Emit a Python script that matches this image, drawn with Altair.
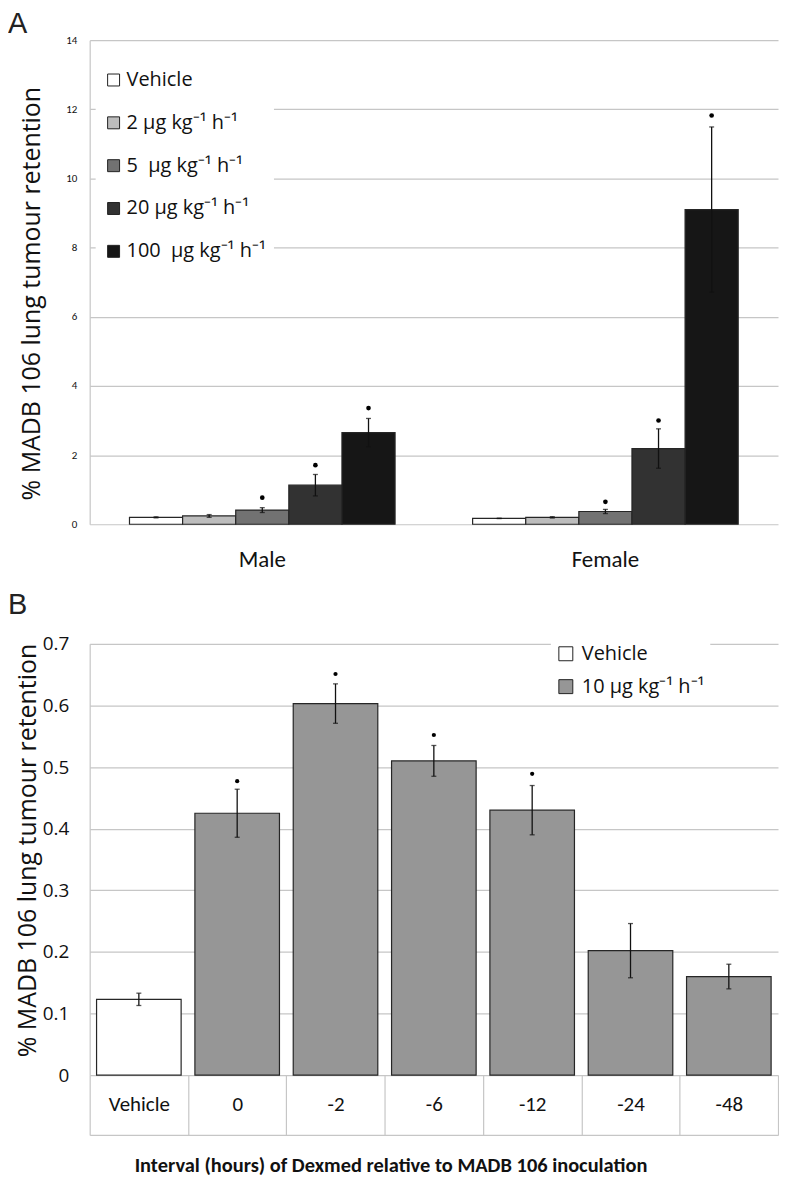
import altair as alt
import pandas as pd

# ---------------- Panel labels ----------------
panel_labels = ["A", "B"]

# ---------------- Panel A data ----------------
sexes = ["Male", "Female"]
doses = ["Vehicle", "2 μg kg⁻¹ h⁻¹", "5\u00a0 μg kg⁻¹ h⁻¹", "20 μg kg⁻¹ h⁻¹", "100\u00a0 μg kg⁻¹ h⁻¹"]
dose_colors = ["#ffffff", "#bdbdbd", "#727272", "#323232", "#161616"]
male_mean = [0.20, 0.24, 0.41, 1.13, 2.65]
male_err = [0.015, 0.04, 0.07, 0.31, 0.41]
male_sig = [None, None, 0.77, 1.71, 3.36]
female_mean = [0.17, 0.20, 0.37, 2.19, 9.10]
female_err = [0.005, 0.02, 0.06, 0.57, 2.39]
female_sig = [None, None, 0.65, 3.00, 11.82]
a_ticks = [0, 2, 4, 6, 8, 10, 12, 14]

# ---------------- Panel B data ----------------
intervals = ["Vehicle", "0", "-2", "-6", "-12", "-24", "-48"]
b_groups_dom = ["Vehicle", "10 μg kg⁻¹ h⁻¹"]
b_group_of = ["Vehicle", "10 μg kg⁻¹ h⁻¹", "10 μg kg⁻¹ h⁻¹", "10 μg kg⁻¹ h⁻¹",
              "10 μg kg⁻¹ h⁻¹", "10 μg kg⁻¹ h⁻¹", "10 μg kg⁻¹ h⁻¹"]
b_colors = ["#ffffff", "#969696"]
b_mean = [0.123, 0.425, 0.603, 0.510, 0.430, 0.202, 0.160]
b_err = [0.010, 0.039, 0.032, 0.025, 0.040, 0.044, 0.020]
b_sig = [None, 0.477, 0.651, 0.552, 0.489, None, None]
b_ticks = [0, 0.1, 0.2, 0.3, 0.4, 0.5, 0.6, 0.7]

SANS = "Open Sans"
CAL = "Carlito, Lato, Open Sans"
LETTER = "Liberation Sans, Arial, sans-serif"
INK = "#111111"
GRID = "#c6c6c6"

A_W, A_H = 691, 486
B_W, B_H = 691, 433
TABLE_H = 60

rows = []
for sex, means, errs, sigs in [("Male", male_mean, male_err, male_sig),
                               ("Female", female_mean, female_err, female_sig)]:
    for d, m, e, s in zip(doses, means, errs, sigs):
        rows.append({"sex": sex, "dose": d, "mean": m, "lo": m - e, "hi": m + e, "sig": s})
df_a = pd.DataFrame(rows)

df_b = pd.DataFrame({
    "interval": intervals, "group": b_group_of, "mean": b_mean,
    "lo": [m - e for m, e in zip(b_mean, b_err)],
    "hi": [m + e for m, e in zip(b_mean, b_err)],
    "sig": b_sig,
})


def panel_letter(letter, dx, dy):
    return alt.Chart(pd.DataFrame({"panel": [letter]})).mark_text(
        font=LETTER, fontSize=29, align="left", baseline="alphabetic", color="#222222"
    ).encode(text="panel:N", x=alt.value(dx), y=alt.value(dy))


# ---------------- Panel A chart ----------------
ya_scale = alt.Scale(domain=[0, 14], nice=False, zero=True)
xa = alt.X("sex:N", sort=sexes,
           scale=alt.Scale(paddingInner=0.226, paddingOuter=0.116),
           axis=alt.Axis(title=None, ticks=False, domain=False, labelAngle=0,
                         labelFont=CAL, labelFontSize=23, labelColor=INK, labelPadding=24))
xoff_a = alt.XOffset("dose:N", sort=doses, scale=alt.Scale(paddingInner=0, paddingOuter=0))
base_a = alt.Chart(df_a).encode(x=xa, xOffset=xoff_a)

bars_a = base_a.mark_bar(stroke="#262626", strokeWidth=1.2).encode(
    y=alt.Y("mean:Q", scale=ya_scale,
            axis=alt.Axis(values=a_ticks, title="% MADB 106 lung tumour retention",
                          titleFont=SANS, titleFontSize=25, titleFontWeight="normal",
                          titleColor=INK, titleX=-58, titleY=254, titleAlign="center",
                          titleBaseline="middle", titleAngle=270,
                          labelFont=CAL, labelFontSize=11, labelColor=INK, labelPadding=13,
                          ticks=False, domain=True, domainColor=GRID, domainWidth=1.2,
                          grid=True, gridColor=GRID, gridWidth=1.2)),
    fill=alt.Fill("dose:N", sort=doses, scale=alt.Scale(domain=doses, range=dose_colors),
                  legend=alt.Legend(orient="none", legendX=6, legendY=22, title=None,
                                    fillColor="#ffffff", padding=8, symbolType="square",
                                    symbolSize=144, symbolStrokeColor="#222222",
                                    symbolStrokeWidth=1, symbolOpacity=1,
                                    labelFont=SANS, labelFontSize=20, labelColor=INK,
                                    labelOffset=3, rowPadding=23, labelLimit=400)),
)
err_a = base_a.mark_rule(color=INK, strokeWidth=1.3).encode(
    y=alt.Y("lo:Q", scale=ya_scale), y2="hi:Q")
caplo_a = base_a.mark_tick(color=INK, size=5, thickness=1.3).encode(y=alt.Y("lo:Q", scale=ya_scale))
caphi_a = base_a.mark_tick(color=INK, size=5, thickness=1.3).encode(y=alt.Y("hi:Q", scale=ya_scale))
dots_a = base_a.transform_filter("datum.sig != null").mark_circle(
    color="#000000", size=22, opacity=1).encode(y=alt.Y("sig:Q", scale=ya_scale))

chart_a = alt.layer(bars_a, err_a, caplo_a, caphi_a, dots_a,
                    panel_letter(panel_labels[0], -82, -7)).properties(width=A_W, height=A_H)

# ---------------- Panel B chart ----------------
yb_scale = alt.Scale(domain=[0, 0.7], nice=False, zero=True)
xb_scale = alt.Scale(paddingInner=0, paddingOuter=0)
# a top-oriented axis moved down to the bottom of the label table: its domain is the
# table's bottom border and its outward ticks are the cell separators
xb_main = alt.X("interval:N", sort=intervals, scale=xb_scale,
                axis=alt.Axis(orient="top", offset=-(B_H + TABLE_H),
                              tickBand="extent", tickSize=TABLE_H, tickColor=GRID, tickWidth=1.2,
                              domain=True, domainColor=GRID, domainWidth=1.2,
                              labelAngle=0, labelFont=CAL, labelFontSize=21, labelColor=INK,
                              labelPadding=-TABLE_H / 2, labelBaseline="middle",
                              title="Interval (hours) of Dexmed relative to MADB 106 inoculation",
                              titleFont=CAL, titleFontSize=20.5, titleFontWeight="bold",
                              titleColor=INK, titleX=302, titleY=31, titleAlign="center",
                              titleBaseline="middle", grid=False))
base_b = alt.Chart(df_b).encode(x=xb_main)

bars_b = base_b.mark_bar(stroke="#262626", strokeWidth=1.2, width=alt.RelativeBandSize(0.86)).encode(
    y=alt.Y("mean:Q", scale=yb_scale,
            axis=alt.Axis(values=b_ticks, title="% MADB 106 lung tumour retention",
                          labelExpr="datum.value == 0 ? '0' : format(datum.value, '.1f')",
                          titleFont=SANS, titleFontSize=25, titleFontWeight="normal",
                          titleColor=INK, titleX=-62, titleY=207, titleAlign="center",
                          titleBaseline="middle", titleAngle=270,
                          labelFont=SANS, labelFontSize=19, labelColor=INK, labelPadding=21,
                          ticks=False, domain=True, domainColor=GRID, domainWidth=1.2,
                          grid=True, gridColor=GRID, gridWidth=1.2)),
    fill=alt.Fill("group:N", scale=alt.Scale(domain=b_groups_dom, range=b_colors),
                  legend=alt.Legend(orient="none", legendX=463, legendY=-5, title=None,
                                    fillColor="#ffffff", padding=5, symbolType="square",
                                    symbolSize=196, symbolStrokeColor="#222222",
                                    symbolStrokeWidth=1, symbolOpacity=1,
                                    labelFont=SANS, labelFontSize=20, labelColor=INK,
                                    labelOffset=6, rowPadding=13, labelLimit=400)),
)
err_b = base_b.mark_rule(color=INK, strokeWidth=1.3).encode(
    y=alt.Y("lo:Q", scale=yb_scale), y2="hi:Q")
caplo_b = base_b.mark_tick(color=INK, size=5, thickness=1.3).encode(y=alt.Y("lo:Q", scale=yb_scale))
caphi_b = base_b.mark_tick(color=INK, size=5, thickness=1.3).encode(y=alt.Y("hi:Q", scale=yb_scale))
dots_b = base_b.transform_filter("datum.sig != null").mark_circle(
    color="#000000", size=18, opacity=1).encode(y=alt.Y("sig:Q", scale=yb_scale))

chart_b = alt.layer(bars_b, err_b, caplo_b, caphi_b, dots_b,
                    panel_letter(panel_labels[1], -82, -30)).properties(width=B_W, height=B_H)

chart = alt.vconcat(chart_a, chart_b, spacing=20).resolve_scale(
    fill="independent").properties(padding=0).configure_view(
    strokeWidth=0).configure_axis(labelOverlap=False)

chart.save("out.html", embed_options={"renderer": "svg", "actions": False})
